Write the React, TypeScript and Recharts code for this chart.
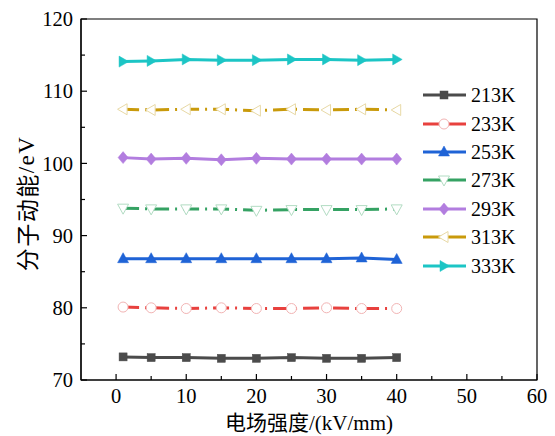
import React from "react";
import { LineChart, Line, XAxis, YAxis, ReferenceArea, Label } from "recharts";

// electric field strength, kV/mm
const fieldStrength = [1, 5, 10, 15, 20, 25, 30, 35, 40];

// molecular kinetic energy (eV) per temperature
const energy213 = [73.2, 73.1, 73.1, 73.0, 73.0, 73.1, 73.0, 73.0, 73.1];
const energy233 = [80.1, 80.0, 79.9, 80.0, 79.9, 79.9, 80.0, 79.9, 79.9];
const energy253 = [86.8, 86.8, 86.8, 86.8, 86.8, 86.8, 86.8, 86.9, 86.7];
const energy273 = [93.8, 93.7, 93.7, 93.7, 93.5, 93.6, 93.6, 93.6, 93.7];
const energy293 = [100.8, 100.6, 100.7, 100.5, 100.7, 100.6, 100.6, 100.6, 100.6];
const energy313 = [107.5, 107.4, 107.5, 107.5, 107.3, 107.5, 107.4, 107.5, 107.4];
const energy333 = [114.1, 114.2, 114.4, 114.3, 114.3, 114.4, 114.4, 114.3, 114.4];

const xTicks = [0, 5, 10, 15, 20, 25, 30, 35, 40, 45, 50, 55, 60];
const yTicks = [70, 75, 80, 85, 90, 95, 100, 105, 110, 115, 120];

const FONT = '"Liberation Serif", "DejaVu Serif", serif';
const CJK = '"Noto Sans CJK SC", sans-serif';

type Shape = "square" | "circle" | "up" | "down" | "diamond" | "left" | "right";

const series: { key: string; name: string; values: number[]; color: string; shape: Shape; open?: boolean; edge?: string; dashed?: boolean }[] = [
  { key: "k213", name: "213K", values: energy213, color: "#4b4b4b", shape: "square" },
  { key: "k233", name: "233K", values: energy233, color: "#e8413e", shape: "circle", open: true, edge: "#f2b4b4", dashed: true },
  { key: "k253", name: "253K", values: energy253, color: "#1f63d6", shape: "up" },
  { key: "k273", name: "273K", values: energy273, color: "#35a263", shape: "down", open: true, edge: "#b2dcc3", dashed: true },
  { key: "k293", name: "293K", values: energy293, color: "#b27ddf", shape: "diamond" },
  { key: "k313", name: "313K", values: energy313, color: "#c99a0b", shape: "left", open: true, edge: "#e8d9a6", dashed: true },
  { key: "k333", name: "333K", values: energy333, color: "#1cc5c5", shape: "right" },
];

const data = fieldStrength.map((x, i) => {
  const row: Record<string, number> = { x };
  series.forEach((s) => (row[s.key] = s.values[i]));
  return row;
});

function Marker({ shape, cx, cy, color, open, edge }: { shape: Shape; cx: number; cy: number; color: string; open?: boolean; edge?: string }) {
  const fill = open ? "#fff" : color;
  const stroke = open ? edge : color;
  const sw = open ? 1 : 0.5;
  switch (shape) {
    case "square":
      return <rect x={cx - 4} y={cy - 4} width={8} height={8} fill={fill} stroke={stroke} strokeWidth={sw} />;
    case "circle":
      return <circle cx={cx} cy={cy} r={5} fill={fill} stroke={stroke} strokeWidth={sw} />;
    case "up":
      return <polygon points={`${cx},${cy - 6} ${cx + 5.5},${cy + 4} ${cx - 5.5},${cy + 4}`} fill={fill} stroke={stroke} strokeWidth={sw} />;
    case "down":
      return <polygon points={`${cx - 5.5},${cy - 4} ${cx + 5.5},${cy - 4} ${cx},${cy + 6}`} fill={fill} stroke={stroke} strokeWidth={sw} />;
    case "diamond":
      return <polygon points={`${cx},${cy - 6} ${cx + 5},${cy} ${cx},${cy + 6} ${cx - 5},${cy}`} fill={fill} stroke={stroke} strokeWidth={sw} />;
    case "left":
      return <polygon points={`${cx - 5.5},${cy} ${cx + 4},${cy - 5.5} ${cx + 4},${cy + 5.5}`} fill={fill} stroke={stroke} strokeWidth={sw} />;
    case "right":
      return <polygon points={`${cx + 5.5},${cy} ${cx - 4},${cy - 5.5} ${cx - 4},${cy + 5.5}`} fill={fill} stroke={stroke} strokeWidth={sw} />;
  }
  return null;
}

// inward ticks, labels only on the major values
const XTick = (props: any) => {
  const { x, y, payload } = props;
  const major = payload.value % 10 === 0;
  return (
    <g>
      <line x1={x} x2={x} y1={y} y2={y - (major ? 6 : 4)} stroke="#000" strokeWidth={1.2} />
      {major && (
        <text x={x} y={y + 23} textAnchor="middle" fontSize={20.5} style={{ fontFamily: FONT }} fill="#000">
          {payload.value}
        </text>
      )}
    </g>
  );
};

const YTick = (props: any) => {
  const { x, y, payload } = props;
  const major = payload.value % 10 === 0;
  return (
    <g>
      <line x1={x} x2={x + (major ? 6 : 4)} y1={y} y2={y} stroke="#000" strokeWidth={1.2} />
      {major && (
        <text x={x - 8} y={y} dy="0.35em" textAnchor="end" fontSize={20.5} style={{ fontFamily: FONT }} fill="#000">
          {payload.value}
        </text>
      )}
    </g>
  );
};

function ChartLegend() {
  return (
    <div style={{ position: "absolute", left: 420, top: 81 }}>
      {series.map((s) => (
        <div key={s.key} style={{ display: "flex", alignItems: "center", height: 28.4 }}>
          <svg width={50} height={20}>
            <line x1={3} x2={46} y1={10} y2={10} stroke={s.color} strokeWidth={3} />
            <Marker shape={s.shape} cx={24} cy={10} color={s.color} open={s.open} edge={s.edge} />
          </svg>
          <span style={{ fontFamily: FONT, fontSize: 20, color: "#000", marginLeft: 1, lineHeight: "20px" }}>{s.name}</span>
        </div>
      ))}
    </div>
  );
}

export default function App() {
  return (
    <div style={{ position: "absolute", left: 0, top: 0, width: 555, height: 436, background: "#fff" }}>
      <LineChart width={555} height={436} data={data} margin={{ top: 19, right: 18, bottom: 0, left: 0 }}>
        <ReferenceArea x1={-5} x2={60} y1={70} y2={120} fill="none" stroke="#000" strokeWidth={1.2} />
        <XAxis
          type="number"
          dataKey="x"
          domain={[-5, 60]}
          ticks={xTicks}
          interval={0}
          height={56}
          tickSize={0}
          tickMargin={0}
          tickLine={false}
          axisLine={{ stroke: "#000", strokeWidth: 1.2 }}
          tick={<XTick />}
          allowDataOverflow
        >
          <Label
            content={({ viewBox }: any) => (
              <text
                x={viewBox.x + viewBox.width / 2}
                y={viewBox.y + viewBox.height - 6}
                textAnchor="middle"
                fontSize={21}
                fill="#000"
              >
                <tspan style={{ fontFamily: CJK }}>电场强度</tspan>
                <tspan style={{ fontFamily: FONT }}>/(kV/mm)</tspan>
              </text>
            )}
          />
        </XAxis>
        <YAxis
          type="number"
          domain={[70, 120]}
          ticks={yTicks}
          interval={0}
          width={81}
          tickSize={0}
          tickMargin={0}
          tickLine={false}
          axisLine={{ stroke: "#000", strokeWidth: 1.2 }}
          tick={<YTick />}
          allowDataOverflow
        >
          <Label
            content={({ viewBox }: any) => {
              const cx = viewBox.x + 26;
              const cy = viewBox.y + viewBox.height / 2 + 4;
              return (
                <text
                  x={cx}
                  y={cy}
                  transform={`rotate(-90 ${cx} ${cy})`}
                  textAnchor="middle"
                  dominantBaseline="central"
                  fontSize={23}
                  letterSpacing={1.5}
                  fill="#000"
                >
                  <tspan style={{ fontFamily: CJK }}>分子动能</tspan>
                  <tspan style={{ fontFamily: FONT }}>/eV</tspan>
                </text>
              );
            }}
          />
        </YAxis>
        {series.map((s) => (
          <Line
            key={s.key}
            type="linear"
            dataKey={s.key}
            name={s.name}
            stroke={s.color}
            strokeWidth={3}
            strokeDasharray={s.dashed ? "16 6 2 6" : undefined}
            isAnimationActive={false}
            dot={(p: any) => (
              <Marker key={`${s.key}-${p.index}`} shape={s.shape} cx={p.cx} cy={p.cy} color={s.color} open={s.open} edge={s.edge} />
            )}
            activeDot={false}
          />
        ))}
      </LineChart>
      <ChartLegend />
    </div>
  );
}
